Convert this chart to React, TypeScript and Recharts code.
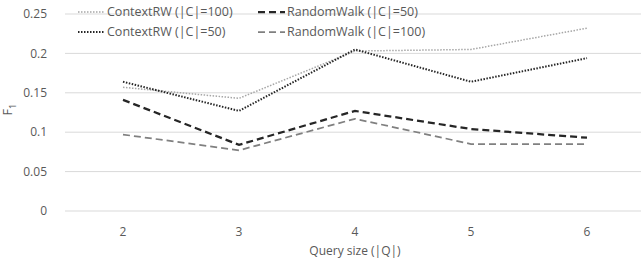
import { LineChart, Line, XAxis, YAxis, CartesianGrid, Label } from "recharts";

const querySizes = ["2", "3", "4", "5", "6"];
const contextRW100 = [0.157, 0.143, 0.203, 0.205, 0.232];
const contextRW50 = [0.164, 0.127, 0.205, 0.164, 0.194];
const randomWalk50 = [0.141, 0.084, 0.127, 0.104, 0.093];
const randomWalk100 = [0.097, 0.077, 0.117, 0.085, 0.085];
const yTicks = [0, 0.05, 0.1, 0.15, 0.2, 0.25];

const series = [
  { key: "crw100", name: "ContextRW (|C|=100)", color: "#a6a6a6", dash: "1.5 1.5", width: 1.5 },
  { key: "rw50", name: "RandomWalk (|C|=50)", color: "#262626", dash: "7 4", width: 2.25 },
  { key: "crw50", name: "ContextRW (|C|=50)", color: "#262626", dash: "1.5 1.5", width: 2 },
  { key: "rw100", name: "RandomWalk (|C|=100)", color: "#808080", dash: "7 4", width: 1.75 },
];

const data = querySizes.map((q, i) => ({
  q,
  crw100: contextRW100[i],
  crw50: contextRW50[i],
  rw50: randomWalk50[i],
  rw100: randomWalk100[i],
}));

const font = "Open Sans, Liberation Sans, sans-serif";
const textColor = "#595959";

function LegendBox() {
  return (
    <div
      style={{
        position: "absolute",
        left: 78,
        top: 2,
        display: "grid",
        gridTemplateColumns: "180px 180px",
        rowGap: 1,
        fontFamily: font,
        fontSize: 12.5,
        color: textColor,
        lineHeight: "19px",
      }}
    >
      {series.map((s) => (
        <div key={s.key} style={{ display: "flex", alignItems: "center" }}>
          <svg width={27} height={10} style={{ marginRight: 2 }}>
            <line
              x1={0}
              y1={5}
              x2={27}
              y2={5}
              stroke={s.color}
              strokeWidth={s.width}
              strokeDasharray={s.dash}
            />
          </svg>
          <span style={{ whiteSpace: "nowrap" }}>{s.name}</span>
        </div>
      ))}
    </div>
  );
}

export default function App() {
  return (
    <div
      style={{
        position: "absolute",
        left: 0,
        top: 0,
        width: 641,
        height: 263,
        overflow: "hidden",
        background: "#fff",
      }}
    >
      <LineChart
        width={645}
        height={263}
        data={data}
        margin={{ top: 14, right: 0, left: 0, bottom: 0 }}
      >
        <CartesianGrid vertical={false} stroke="#d9d9d9" strokeWidth={1} />
        <XAxis
          dataKey="q"
          axisLine={false}
          tickLine={false}
          padding={{ left: 58, right: 58 }}
          height={52}
          tick={{ fill: textColor, fontSize: 12, fontFamily: font }}
          tickMargin={10}
        >
          <Label
            value="Query size (|Q|)"
            position="insideBottom"
            offset={8}
            style={{ fill: textColor, fontSize: 12, fontFamily: font }}
          />
        </XAxis>
        <YAxis
          domain={[0, 0.25]}
          ticks={yTicks}
          axisLine={false}
          tickLine={false}
          width={65}
          tickMargin={12}
          tick={{ fill: textColor, fontSize: 12, fontFamily: font }}
        />
        {series.map((s) => (
          <Line
            key={s.key}
            dataKey={s.key}
            name={s.name}
            stroke={s.color}
            strokeWidth={s.width}
            strokeDasharray={s.dash}
            dot={false}
            activeDot={false}
            isAnimationActive={false}
          />
        ))}
      </LineChart>
      <div
        style={{
          position: "absolute",
          left: 3,
          top: 100,
          transform: "rotate(-90deg)",
          transformOrigin: "center",
          fontFamily: font,
          fontSize: 12.5,
          color: textColor,
        }}
      >
        F<sub style={{ fontSize: 9 }}>1</sub>
      </div>
      <LegendBox />
    </div>
  );
}
